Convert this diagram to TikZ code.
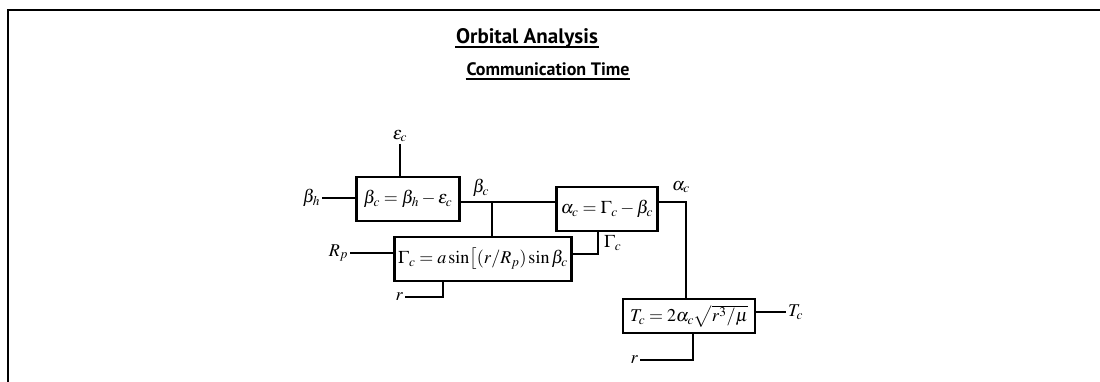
\documentclass[tikz,border=0pt]{standalone}
\usepackage{mathptmx}
\usepackage[no-math]{fontspec}
\newfontfamily\headfont{PT Sans}
\usetikzlibrary{calc,positioning}

\begin{document}
\begin{tikzpicture}[
  x=1pt, y=-1pt,
  line width=2pt,
  eqbox/.style={draw, line width=2.6pt, minimum height=44pt, inner xsep=3pt,
    font=\fontsize{18}{21}\selectfont},
  lbl/.style={inner sep=1pt, font=\fontsize{18}{21}\selectfont},
  ttl/.style={inner sep=0pt, font=\headfont\bfseries\fontsize{21}{25}\selectfont}
]
\useasboundingbox (0,0) rectangle (1100,382);
\draw[line width=2.5pt] (8,382) -- (8,10) -- (1100,10);

% headings
\node[ttl] (title) at (527,38) {Orbital Analysis};
\node[ttl, font=\headfont\bfseries\fontsize{18}{21}\selectfont] (subtitle) at (548,69) {Communication Time};
\draw ($(title.base west)+(0,4)$) -- ($(title.base east)+(0,4)$);
\draw ($(subtitle.base west)+(0,4)$) -- ($(subtitle.base east)+(0,4)$);

% equation blocks
\node[eqbox, minimum width=103pt] (beta) at (408,199) {$\beta_c=\beta_h-\varepsilon_c$};
\node[eqbox, minimum width=101pt] (alpha) at (607,209) {$\alpha_c=\Gamma_c-\beta_c$};
\node[eqbox, minimum width=177pt] (gamma) at (483,259) {$\Gamma_c=a\sin\bigl[(r/R_p)\sin\beta_c$};
\node[eqbox, minimum width=132pt, minimum height=34pt] (tcom) at (689,316) {$T_c=2\alpha_c\sqrt{r^3/\mu}$};

% inputs and signals
\node[lbl] (epsin) at (400,136) {$\varepsilon_c$};
\draw (epsin.south) -- (epsin.south |- beta.north);
\node[lbl, anchor=east] (bhin) at (322,198) {$\beta_h$};
\draw (bhin.east) -- (bhin.east -| beta.west);

\coordinate (jbc) at (492,202);
\draw (beta.east |- jbc) -- (alpha.west |- jbc);
\draw (jbc) -- (jbc |- gamma.north);
\node[lbl] (bclbl) at (481,188) {$\beta_c$};

\node[lbl, anchor=east] (rpin) at (350,253) {$R_p$};
\draw (rpin.east) -- (rpin.east -| gamma.west);
\node[lbl, anchor=east] (rin1) at (405,297) {$r$};
\draw (rin1.east) -| ($(gamma.south)+(-40,0)$);

\coordinate (jgc) at (598,254);
\draw (gamma.east |- jgc) -| (jgc |- alpha.south);
\node[lbl, anchor=west] (gclbl) at (602,243) {$\Gamma_c$};

\coordinate (jal) at (686,202);
\draw (alpha.east |- jal) -| (jal |- tcom.north);
\node[lbl] (aclbl) at (681,187) {$\alpha_c$};

\node[lbl, anchor=west] (tcout) at (786,312) {$T_c$};
\draw (tcom.east |- tcout.west) -- (tcout.west);
\node[lbl, anchor=east] (rin2) at (640,360) {$r$};
\draw (rin2.east) -| ($(tcom.south)+(4,0)$);
\end{tikzpicture}
\end{document}
